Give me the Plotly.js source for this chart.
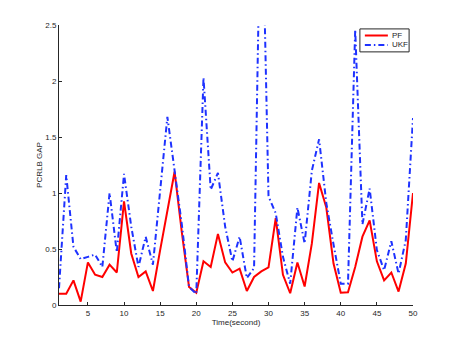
<!DOCTYPE html>
<html>
<head>
<meta charset="utf-8">
<script src="https://cdn.plot.ly/plotly-3.0.1.min.js"></script>
<style>html,body{margin:0;padding:0;background:#fff;}#chart{width:457px;height:343px;}</style>
</head>
<body>
<div id="chart"></div>
<script>
const timeSec = [1,2,3,4,5,6,7,8,9,10,11,12,13,14,15,16,17,18,19,20,21,22,23,24,25,26,27,28,29,30,31,32,33,34,35,36,37,38,39,40,41,42,43,44,45,46,47,48,49,50];
const pfGap = [0.10,0.10,0.22,0.03,0.38,0.27,0.25,0.36,0.29,0.925,
               0.46,0.25,0.30,0.125,0.49,0.83,1.19,0.65,0.16,0.11,
               0.39,0.34,0.635,0.38,0.29,0.325,0.125,0.25,0.30,0.335,
               0.776,0.27,0.105,0.38,0.165,0.55,1.09,0.87,0.37,0.11,
               0.113,0.34,0.61,0.755,0.39,0.22,0.29,0.12,0.37,1.00];
const ukfGap = [0.15,1.16,0.52,0.41,0.43,0.45,0.34,1.00,0.47,1.17,
                0.70,0.34,0.61,0.36,1.02,1.68,1.20,0.72,0.16,0.10,
                2.03,1.03,1.18,0.70,0.39,0.61,0.24,0.33,4.00,0.97,
                0.82,0.43,0.19,0.87,0.55,1.20,1.48,0.91,0.54,0.19,
                0.19,2.46,0.72,1.04,0.49,0.31,0.57,0.28,0.58,1.67];
const xTicks = [5,10,15,20,25,30,35,40,45,50];
const yTicks = [0,0.5,1,1.5,2,2.5];
const seriesNames = ['PF','UKF'];
const seriesColors = ['#ff0000','rgb(30,50,255)'];
const seriesDash = ['solid','6px,3px,1.5px,3px'];

const axisColor = '#262626';
const fontFam = '"Liberation Sans", Arial, Helvetica, sans-serif';

const traces = seriesNames.map((nm, i) => ({
  x: timeSec, y: i === 0 ? pfGap : ukfGap, name: nm, type: 'scatter', mode: 'lines',
  line: {color: seriesColors[i], width: 2, dash: seriesDash[i]}, showlegend: false
}));

const commonAxis = {
  showgrid: false, zeroline: false, showline: true, linecolor: axisColor, linewidth: 1,
  ticks: 'inside', ticklen: 3, tickwidth: 1, tickcolor: axisColor,
  tickfont: {family: fontFam, size: 8, color: axisColor}, mirror: false
};

// compact MATLAB-style legend box (paper coordinates)
const legBox = {x0: 0.850, x1: 0.989, y0: 0.904, y1: 0.986};
const legRowsY = [0.9625, 0.9286];
const legLineX = [0.864, 0.929];
const legTextX = 0.936;

const shapes = [{type: 'rect', xref: 'paper', yref: 'paper',
  x0: legBox.x0, x1: legBox.x1, y0: legBox.y0, y1: legBox.y1,
  line: {color: axisColor, width: 1}, fillcolor: '#ffffff', layer: 'above'}];
const annotations = [];
seriesNames.forEach((nm, i) => {
  shapes.push({type: 'line', xref: 'paper', yref: 'paper',
    x0: legLineX[0], x1: legLineX[1], y0: legRowsY[i], y1: legRowsY[i],
    line: {color: seriesColors[i], width: 2, dash: seriesDash[i]}, layer: 'above'});
  annotations.push({xref: 'paper', yref: 'paper', x: legTextX, y: legRowsY[i],
    xanchor: 'left', yanchor: 'middle', text: nm, showarrow: false,
    font: {family: fontFam, size: 8, color: axisColor}});
});

const layout = {
  width: 457, height: 343,
  margin: {l: 59, r: 44, t: 25, b: 38, pad: 0},
  paper_bgcolor: '#ffffff', plot_bgcolor: '#ffffff',
  font: {family: fontFam, size: 8, color: axisColor},
  showlegend: false,
  shapes: shapes,
  annotations: annotations,
  xaxis: Object.assign({}, commonAxis, {
    range: [1, 50], tickmode: 'array', tickvals: xTicks,
    title: {text: 'Time(second)', font: {family: fontFam, size: 8, color: axisColor}, standoff: 1}
  }),
  yaxis: Object.assign({}, commonAxis, {
    range: [0, 2.5], tickmode: 'array', tickvals: yTicks,
    title: {text: 'PCRLB GAP', font: {family: fontFam, size: 8, color: axisColor}, standoff: 1}
  })
};

Plotly.newPlot('chart', traces, layout, {staticPlot: true, displayModeBar: false});
</script>
</body>
</html>
